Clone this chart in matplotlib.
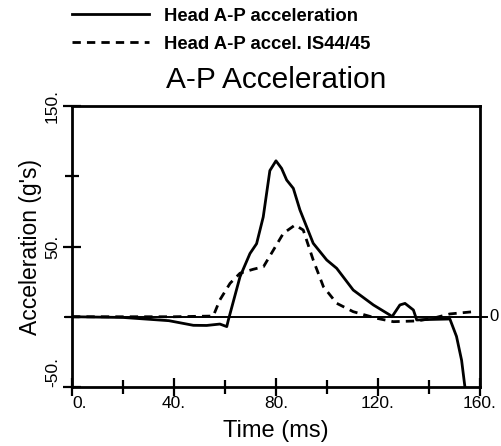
import matplotlib
matplotlib.use("Agg")
import matplotlib.pyplot as plt
from matplotlib.ticker import FixedLocator

plt.rcParams["font.family"] = ["Liberation Sans", "DejaVu Sans"]

# Head A-P acceleration (solid)
t_head = [0, 20, 38, 47.6, 52.8, 58, 60.7, 61.3, 65.9, 69.8, 72.4, 75, 77.6, 80,
          82.2, 84.2, 86.8, 89.4, 94.6, 99.9, 103.8, 110.3, 118.2, 124.7, 125.5,
          128.6, 130.6, 133.9, 135.2, 139, 148.2, 150.8, 152.8, 154.1]
a_head = [0, -0.5, -2.8, -6.1, -6.2, -5.2, -7, -2.5, 28.5, 45, 52, 71, 104, 111,
          105.6, 97.3, 91.4, 76, 52.3, 40.4, 34.5, 19, 8.4, 1.2, 0,
          8.4, 9.5, 4.8, -2.3, -2, -1.6, -14, -31, -50]

# Head A-P accel. IS44/45 (dashed)
t_is = [0, 40, 55.4, 58, 62, 65.9, 71.1, 75.1, 79, 82.9, 87.5, 90.7, 94.6, 98.6,
        103.8, 110.3, 119.5, 126, 135.2, 141.7, 148.2, 157.4]
a_is = [0, 0, 0.5, 12, 23.8, 31, 33.8, 35.6, 47.5, 59.4, 65.3, 61.7, 40.4, 21.4,
        9.6, 3.6, -1.1, -3.5, -3, -1, 2, 3.6]

x_major = [0, 40, 80, 120, 160]
x_labels = ["0.", "40.", "80.", "120.", "160."]
y_major = [-50, 50, 150]
y_labels = ["-50.", "50.", "150."]

fig = plt.figure(figsize=(5.02, 4.46), dpi=100)
ax = fig.add_axes([0.1434, 0.1323, 0.8127, 0.6300])

l1, = ax.plot(t_head, a_head, color="black", lw=2.0, solid_joinstyle="round")
l2, = ax.plot(t_is, a_is, color="black", lw=2.0, ls=(0, (3, 2.2)))

ax.axhline(0, xmin=-0.018, xmax=1.018, color="black", lw=1.4, clip_on=False)
ax.text(1.022, 0, "0", transform=ax.get_yaxis_transform(), ha="left", va="center",
        fontsize=12)

ax.set_xlim(0, 160)
ax.set_ylim(-50, 150)
ax.set_xticks(x_major)
ax.set_xticklabels(x_labels)
ax.xaxis.set_minor_locator(FixedLocator([20, 60, 100, 140]))
ax.set_yticks(y_major)
ax.set_yticklabels(y_labels, rotation=90, va="center")
ax.yaxis.set_minor_locator(FixedLocator([0, 100]))

for s in ax.spines.values():
    s.set_linewidth(2.0)
ax.tick_params(which="major", direction="inout", length=13.5, width=1.6,
               labelsize=12.5, pad=2)
ax.tick_params(which="minor", direction="inout", length=9.5, width=1.6)
ax.tick_params(axis="x", which="major", pad=0)

ax.get_xticklabels()[0].set_ha("left")
ax.get_yticklabels()[0].set_va("bottom")

ax.set_xlabel("Time (ms)", fontsize=17, labelpad=6)
ax.set_ylabel("Acceleration (g's)", fontsize=16.5, labelpad=2)
ax.set_title("A-P Acceleration", fontsize=21.5, pad=13)

fig.legend([l1, l2], ["Head A-P acceleration", "Head A-P accel. IS44/45"],
           loc="upper left", bbox_to_anchor=(0.11, 1.02), frameon=False,
           prop={"weight": "bold", "size": 13.3}, handlelength=4.2,
           handletextpad=0.8, labelspacing=0.6)

fig.savefig("out.png", dpi=100)
